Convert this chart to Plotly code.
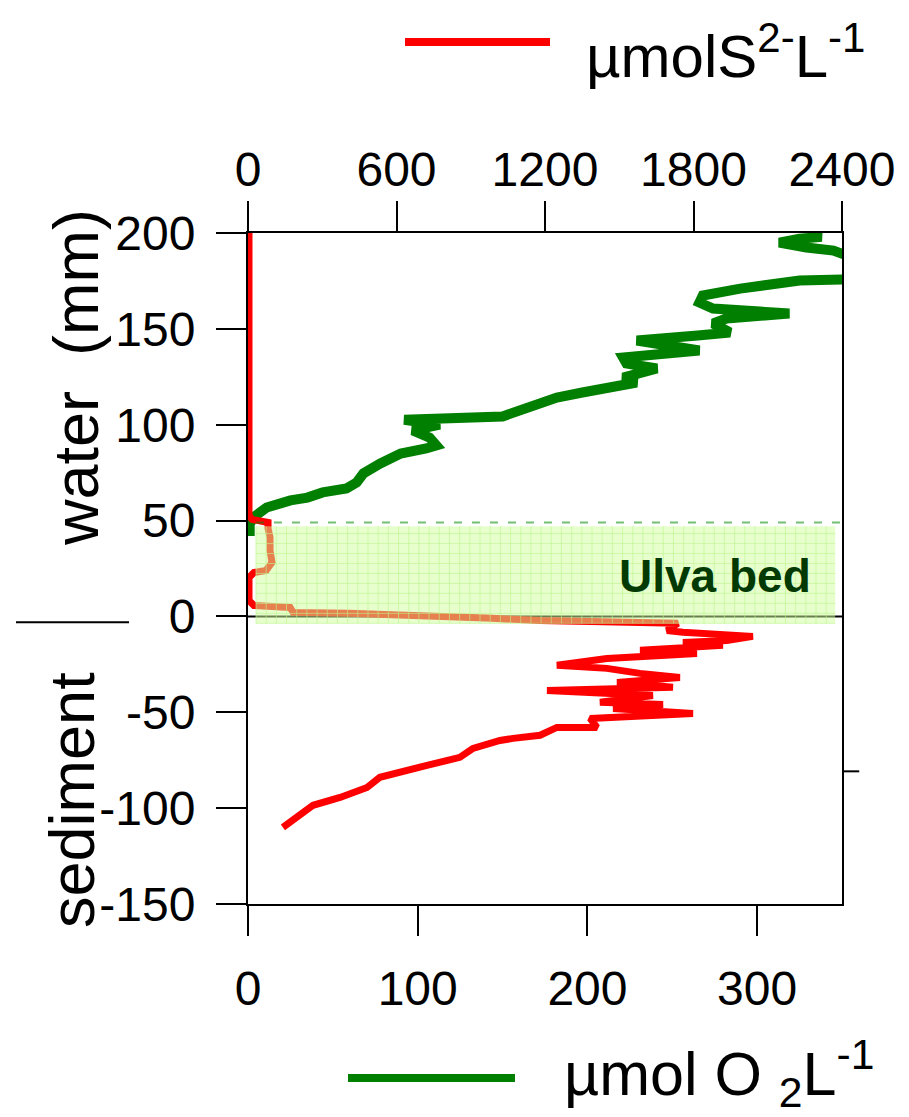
import plotly.graph_objects as go

# ---------------- data ----------------
# Oxygen profile (bottom axis, umol O2 / L) vs depth (mm)
o2_value = [1, 1, 3, 11, 25, 35, 44, 58, 64, 68, 78, 90, 105, 111, 107, 97, 113, 92,
            150, 160, 172, 182, 197, 219, 229, 221, 241, 223, 221, 266, 229, 265,
            284, 274, 282, 319, 274, 266, 268, 290, 325, 362, 372, 356, 345, 329,
            313, 325, 338, 329]
o2_depth = [42, 48, 51.6, 56.8, 60.5, 62.0, 64.7, 66.7, 69.9, 74.6, 79.8, 85.0, 87.6,
            89.2, 93.3, 97.0, 100.0, 102.6, 104.3, 107.4, 111.6, 114.2, 116.8, 120.4,
            122.0, 124.6, 129.3, 131.9, 135.0, 138.7, 143.9, 146.5, 148.1, 152.8,
            155.4, 158.0, 160.6, 163.7, 167.4, 171.0, 175.2, 176.0, 182.0, 187.2,
            190.8, 192.4, 195.0, 197.0, 198.0, 199.5]

# Sulfide profile (top axis, umol S2- / L) vs depth (mm)
s_value = [4, 4, 16, 81, 81, 89, 89, 97, 73, 24, 4, 4, 24, 170, 182, 408, 986, 1180,
           1737, 1693, 1757, 2040, 1935, 1757, 1919, 1584, 1814, 1450, 1248, 1450,
           1584, 1745, 1491, 1717, 1208, 1515, 1636, 1422, 1677, 1475, 1798, 1382,
           1410, 1248, 1180, 1071, 1018, 909, 856, 723, 533, 481, 372, 263, 210, 141]
s_depth = [200, 52.7, 50.6, 49.0, 45.9, 41.2, 34.4, 28.2, 24.0, 22.9, 20.3, 8.3, 5.7,
           4.7, 2.1, 1.6, -1.0, -2.1, -3.6, -7.3, -8.3, -10.4, -12.5, -13.6, -15.1,
           -17.7, -19.3, -21.9, -25.5, -27.1, -29.7, -31.8, -34.4, -37.0, -38.6,
           -40.1, -41.2, -44.8, -45.9, -48.0, -50.6, -53.2, -57.9, -57.9, -62.0,
           -63.6, -64.7, -68.8, -73.5, -77.7, -83.9, -89.2, -94.4, -98.5, -103.8,
           -110.0]

y_ticks = [-150, -100, -50, 0, 50, 100, 150, 200]
o2_ticks = [0, 100, 200, 300]
s_ticks = [0, 600, 1200, 1800, 2400]

bed_top, bed_bottom = 47, -3.6
bed_left, bed_right = 4.7, 346

FONT = "Liberation Sans, Arial, Helvetica, sans-serif"

fig = go.Figure()
fig.add_trace(go.Scatter(x=o2_value, y=o2_depth, mode="lines", xaxis="x", yaxis="y",
                         line=dict(color="#007f00", width=10), showlegend=False))
fig.add_trace(go.Scatter(x=s_value, y=s_depth, mode="lines", xaxis="x2", yaxis="y",
                         line=dict(color="#ff0000", width=7), showlegend=False))

axis_common = dict(showline=True, linecolor="black", linewidth=2, ticks="outside",
                   ticklen=30, tickwidth=2, tickcolor="black", showgrid=False,
                   zeroline=False, tickfont=dict(family=FONT, size=48, color="black"))

fig.update_layout(
    width=909, height=1117,
    margin=dict(l=248, r=67, t=233, b=213),
    paper_bgcolor="white", plot_bgcolor="white",
    xaxis=dict(range=[0, 350], tickvals=o2_ticks, ticktext=[str(t) for t in o2_ticks],
               ticklabelstandoff=11, **axis_common),
    xaxis2=dict(range=[0, 2400], tickvals=s_ticks, ticktext=[str(t) for t in s_ticks],
                overlaying="x", side="top", ticklabelstandoff=-4, **axis_common),
    yaxis=dict(range=[-150, 200], tickvals=y_ticks, ticktext=[str(t) for t in y_ticks],
               mirror=True, ticklabelstandoff=11, **axis_common),
)

shapes = []
# zero line
shapes.append(dict(type="line", xref="x", yref="y", x0=0, x1=350, y0=0, y1=0,
                   line=dict(color="black", width=2), layer="below"))
# Ulva bed rectangle
shapes.append(dict(type="rect", xref="x", yref="y", x0=bed_left, x1=bed_right,
                   y0=bed_bottom, y1=bed_top, fillcolor="rgba(205,255,155,0.5)",
                   line=dict(width=0), layer="above"))
# faint grid hatch inside the bed
gx = bed_left
while gx < bed_right:
    shapes.append(dict(type="line", xref="x", yref="y", x0=gx, x1=gx, y0=bed_bottom,
                       y1=bed_top, line=dict(color="rgba(190,245,140,0.6)", width=1),
                       layer="above"))
    gx += 6
gy = bed_bottom
while gy < bed_top:
    shapes.append(dict(type="line", xref="x", yref="y", x0=bed_left, x1=bed_right,
                       y0=gy, y1=gy, line=dict(color="rgba(190,245,140,0.6)", width=1),
                       layer="above"))
    gy += 5.2
# dashed top edge of the bed
shapes.append(dict(type="line", xref="x", yref="y", x0=bed_left, x1=350, y0=49, y1=49,
                   line=dict(color="rgba(0,140,0,0.55)", width=2, dash="8px,10px"),
                   layer="above"))
# stray marks
shapes.append(dict(type="line", xref="paper", yref="y", x0=-0.3906, x1=-0.2003,
                   y0=-3, y1=-3, line=dict(color="black", width=2)))
shapes.append(dict(type="line", xref="paper", yref="y", x0=1.0, x1=1.029,
                   y0=-80.8, y1=-80.8, line=dict(color="black", width=2)))
# legend lines
shapes.append(dict(type="line", xref="paper", yref="paper", x0=(405 - 248) / 594,
                   x1=(550 - 248) / 594, y0=(904 - 42) / 671, y1=(904 - 42) / 671,
                   line=dict(color="#ff0000", width=8)))
shapes.append(dict(type="line", xref="paper", yref="paper", x0=(348 - 248) / 594,
                   x1=(515 - 248) / 594, y0=(904 - 1078) / 671, y1=(904 - 1078) / 671,
                   line=dict(color="#008000", width=8)))
fig.update_layout(shapes=shapes)

annotations = [
    dict(text="Ulva bed", xref="x", yref="y", x=275, y=20.9, showarrow=False,
         font=dict(family=FONT, size=46, color="#033a03", weight="bold")),
    dict(text="water  (mm)", xref="paper", yref="paper", x=(76 - 248) / 594,
         y=(904 - 378) / 671, textangle=-90, showarrow=False,
         xanchor="center", yanchor="middle",
         font=dict(family=FONT, size=63, color="black")),
    dict(text="sediment", xref="paper", yref="paper", x=(72 - 248) / 594,
         y=(904 - 800) / 671, textangle=-90, showarrow=False,
         xanchor="center", yanchor="middle",
         font=dict(family=FONT, size=63, color="black")),
    dict(text="µmolS<sup>2-</sup>L<sup>-1</sup>", xref="paper", yref="paper",
         x=(584 - 248) / 594, y=(904 - 52) / 671, xanchor="left", yanchor="middle",
         showarrow=False, font=dict(family=FONT, size=60, color="black")),
    dict(text="µmol O <sub>2</sub>L<sup>-1</sup>", xref="paper", yref="paper",
         x=(562 - 248) / 594, y=(904 - 1073) / 671, xanchor="left", yanchor="middle",
         showarrow=False, font=dict(family=FONT, size=61, color="black")),
]
fig.update_layout(annotations=annotations)

fig.write_html("out.html", config={"displayModeBar": False},
               post_script="document.body.style.margin='0';document.body.style.overflow='hidden';")
